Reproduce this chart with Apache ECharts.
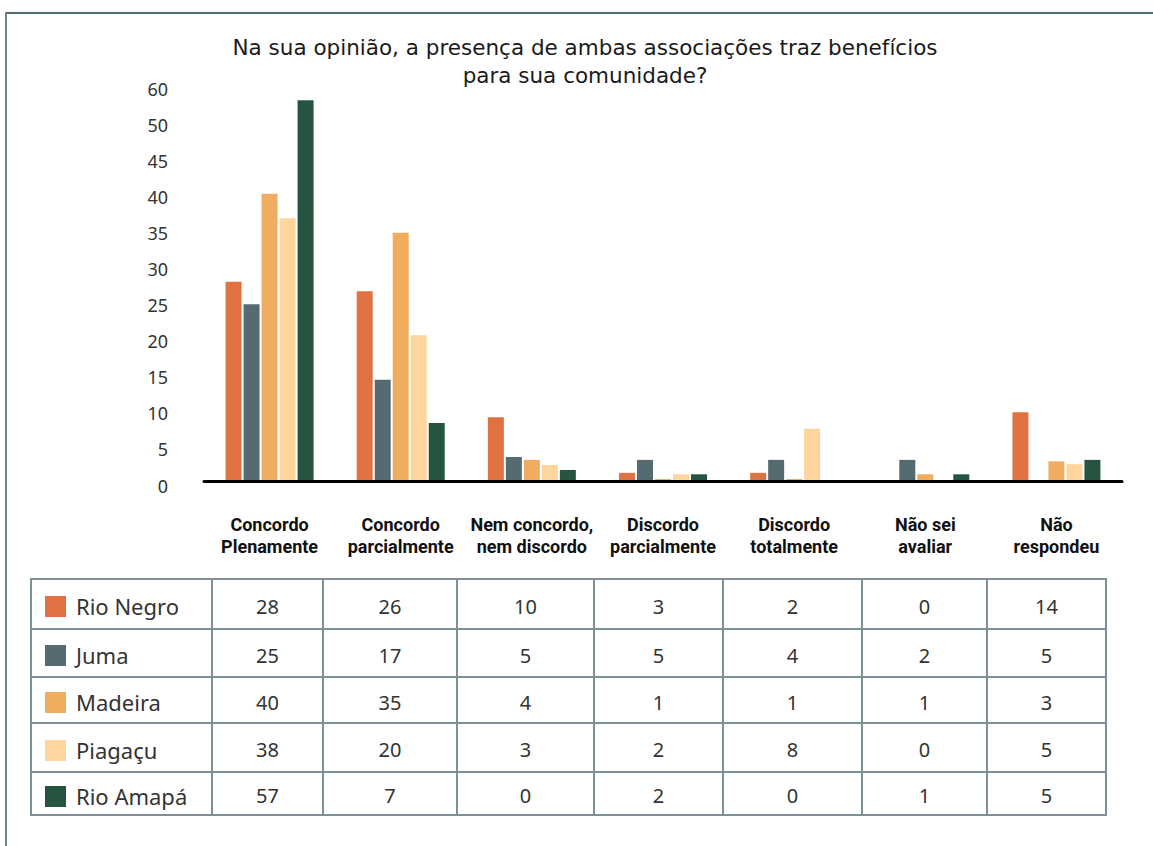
<!DOCTYPE html>
<html>
<head>
<meta charset="utf-8">
<script src="https://cdn.jsdelivr.net/npm/echarts@6/dist/echarts.min.js"></script>
<style>
  html, body { margin: 0; padding: 0; background: #fff; }
  #wrap { position: relative; width: 1153px; height: 846px; overflow: hidden; }
  #chart { position: absolute; left: 0; top: 0; width: 1153px; height: 846px; }
  #frameTop { position: absolute; left: 6px; top: 12px; width: 1147px; height: 0; border-top: 2px solid #52696f; }
  #frameLeft { position: absolute; left: 5px; top: 12px; width: 0; height: 834px; border-left: 2px solid #6f858c; }
  #tbl { position: absolute; left: 30px; top: 578px; border-collapse: collapse; table-layout: fixed;
         font-family: "Noto Sans", sans-serif; color: #333; }
  #tbl td { border: 2px solid #7d9098; padding: 4px 0 0 0; text-align: center; font-size: 20px; }
  #tbl td.name { text-align: left; font-size: 22px; white-space: nowrap; }
  #tbl .sw { display: inline-block; width: 21px; height: 21px; margin-left: 13px; margin-right: 10px; vertical-align: -2px; }
</style>
</head>
<body>
<div id="wrap">
  <div id="chart"></div>
  <div id="frameTop"></div>
  <div id="frameLeft"></div>
  <table id="tbl"></table>
</div>
<script>
// ---- data ----
const titleText = 'Na sua opinião, a presença de ambas associações traz benefícios\npara sua comunidade?';
const categories = ['Concordo\nPlenamente', 'Concordo\nparcialmente', 'Nem concordo,\nnem discordo',
  'Discordo\nparcialmente', 'Discordo\ntotalmente', 'Não sei\navaliar', 'Não\nrespondeu'];
const seriesNames = ['Rio Negro', 'Juma', 'Madeira', 'Piagaçu', 'Rio Amapá'];
const yTickLabels = ['0', '5', '10', '15', '20', '25', '30', '35', '40', '45', '50', '60'];

// bar heights as drawn in the picture
const rioNegroBars = [27.7, 26.4, 8.9, 1.2, 1.2, null, 9.6];
const jumaBars     = [24.6, 14.1, 3.4, 3.0, 3.0, 3.0, null];
const madeiraBars  = [39.9, 34.5, 3.0, 0.35, 0.35, 1.0, 2.8];
const piagacuBars  = [36.5, 20.3, 2.3, 1.0, 7.3, null, 2.4];
const rioAmapaBars = [52.9, 8.1, 1.6, 1.0, null, 1.0, 3.0];

// values printed in the data table
const rioNegroTable = [28, 26, 10, 3, 2, 0, 14];
const jumaTable     = [25, 17, 5, 5, 4, 2, 5];
const madeiraTable  = [40, 35, 4, 1, 1, 1, 3];
const piagacuTable  = [38, 20, 3, 2, 8, 0, 5];
const rioAmapaTable = [57, 7, 0, 2, 0, 1, 5];

// ---- styles ----
const palette = ['#e07241', '#556b71', '#f0ad5f', '#fed59c', '#255541'];
const barSets = [rioNegroBars, jumaBars, madeiraBars, piagacuBars, rioAmapaBars];
const tableSets = [rioNegroTable, jumaTable, madeiraTable, piagacuTable, rioAmapaTable];

const chart = echarts.init(document.getElementById('chart'), null, { renderer: 'svg' });
chart.setOption({
  animation: false,
  title: {
    text: titleText,
    left: 580,
    top: 28,
    textAlign: 'center',
    textStyle: { fontFamily: 'DejaVu Sans', fontSize: 21.5, fontWeight: 'normal', color: '#1a1a1a', lineHeight: 28 }
  },
  grid: { left: 204, right: 31, top: 85, bottom: 364.5, containLabel: false },
  xAxis: {
    type: 'category',
    data: categories,
    z: 5,
    axisLine: { show: true, lineStyle: { color: '#000', width: 3 } },
    axisTick: { show: false },
    axisLabel: {
      interval: 0, margin: 32, fontFamily: 'Roboto', fontWeight: 'bold', fontSize: 18,
      lineHeight: 22, color: '#111'
    }
  },
  yAxis: {
    type: 'value', min: 0, max: 55, interval: 5,
    axisLine: { show: false }, axisTick: { show: false }, splitLine: { show: false },
    axisLabel: {
      margin: 36, color: '#333',
      formatter: function (v) { return '{t|' + yTickLabels[Math.round(v / 5)] + '}'; },
      rich: { t: { fontFamily: 'Noto Sans', fontSize: 18, color: '#333', padding: [8, 0, 0, 0] } }
    }
  },
  series: seriesNames.map(function (name, i) {
    return {
      name: name, type: 'bar', data: barSets[i], barWidth: 16, barGap: '12.5%',
      itemStyle: { color: palette[i] }
    };
  })
});

// ---- data table with legend swatches ----
const colWidths = [181, 111, 134, 137, 129, 139, 125, 119];
const rowHeights = [50, 48, 46, 49, 43];
const tbl = document.getElementById('tbl');
let html = '<colgroup>' + colWidths.map(w => '<col style="width:' + w + 'px">').join('') + '</colgroup>';
seriesNames.forEach(function (name, i) {
  html += '<tr style="height:' + rowHeights[i] + 'px">';
  html += '<td class="name"><span class="sw" style="background:' + palette[i] + '"></span>' + name + '</td>';
  tableSets[i].forEach(function (v) { html += '<td>' + v + '</td>'; });
  html += '</tr>';
});
tbl.innerHTML = html;
tbl.style.width = colWidths.reduce((a, b) => a + b, 0) + 'px';
</script>
</body>
</html>
